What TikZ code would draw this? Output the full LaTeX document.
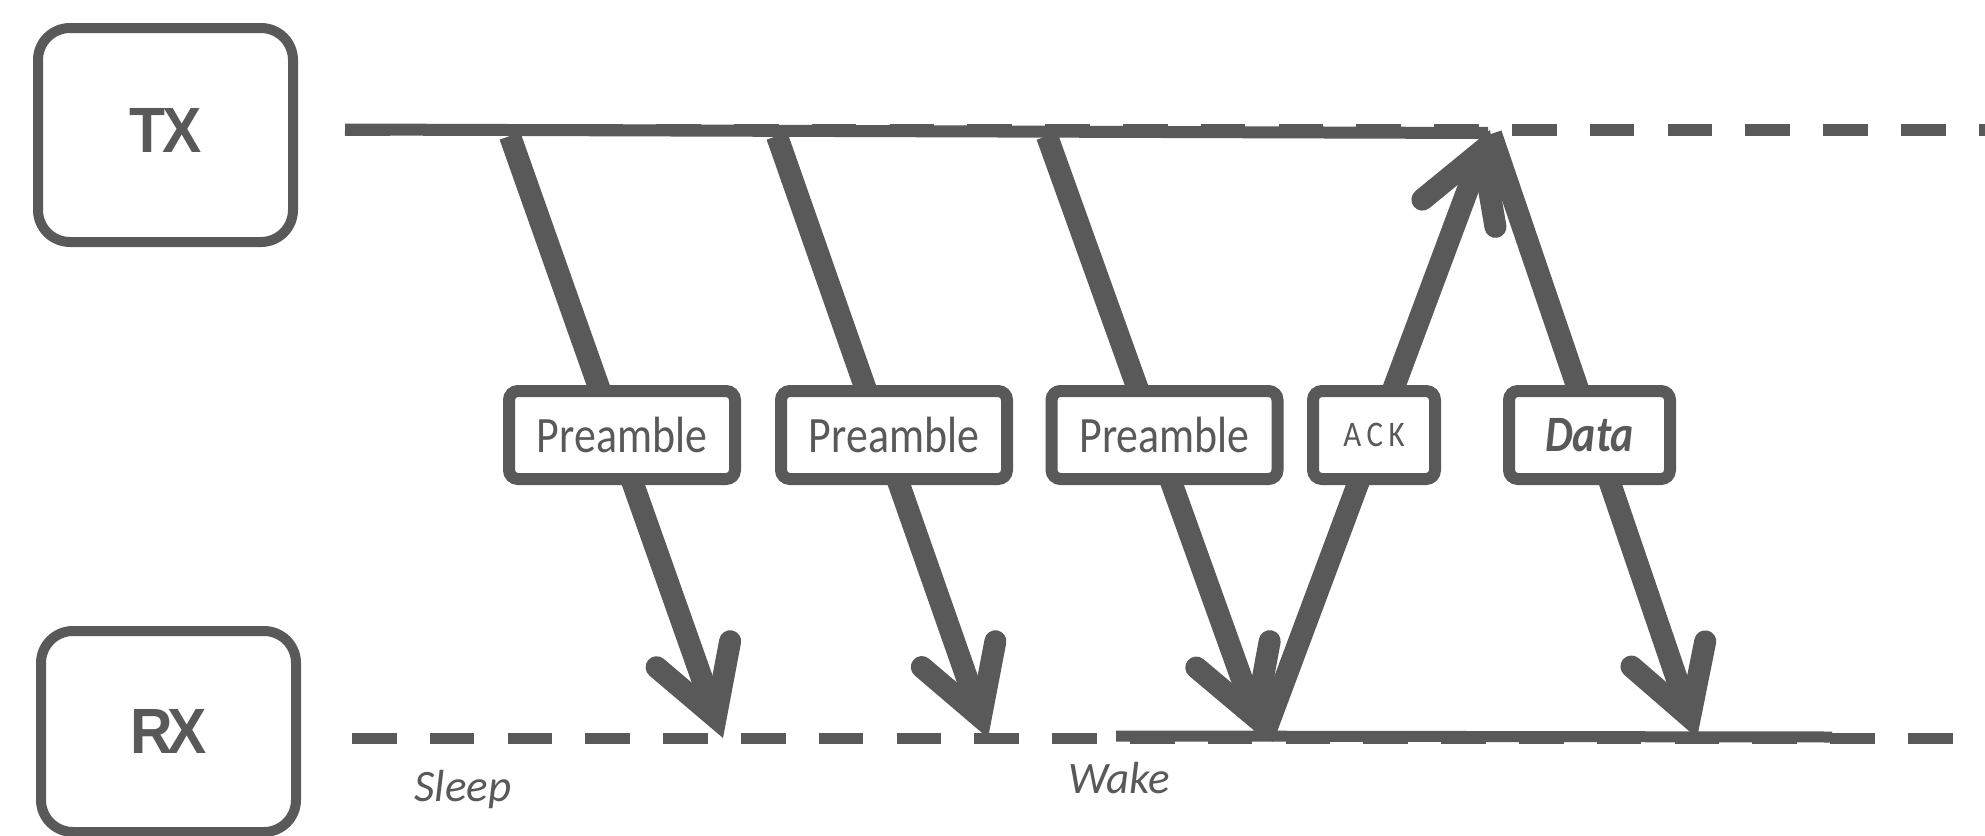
\documentclass[tikz,border=0pt]{standalone}
\usepackage{fontspec}
\usetikzlibrary{arrows.meta}
\setmainfont{Carlito}
\newfontfamily\capfont[FakeStretch=0.92]{Liberation Sans}
\newfontfamily\lblfont[FakeStretch=0.86]{Carlito}
\definecolor{ink}{RGB}{89,89,89}

\begin{document}
\begin{tikzpicture}[x=1pt,y=-1pt,
  every node/.style={text=ink},
  lane/.style={draw=ink, line width=10pt, rounded corners=32pt,
    minimum width=255pt, inner sep=0pt,
    font=\capfont\fontsize{64}{70}\selectfont\bfseries},
  lbl/.style={draw=ink, fill=white, line width=12pt, rounded corners=9pt,
    minimum height=88pt, inner sep=0pt,
    font=\lblfont\fontsize{51}{56}\selectfont},
  msg/.style={draw=ink, line width=22pt,
    -{Straight Barb[length=67pt,width=78pt,line cap=round,line join=miter]}},
  idle/.style={draw=ink, line width=12pt, dash pattern=on 44.5pt off 33.3pt},
  busy/.style={draw=ink, line width=12pt},
  note/.style={font=\fontsize{45}{50}\selectfont\itshape, anchor=base}
]
\fill[white] (0,0) rectangle (1985,835);
\useasboundingbox (0,0) rectangle (1985,835);

% stations
\node[lane, minimum height=214pt, text depth=10pt] (tx) at (165.5,135) {T\kern-3.5pt X};
\node[lane, minimum height=201pt] (rx) at (168.5,731.5) {R\kern-5pt X};

% time lines
\coordinate (txa) at (345,130);   \coordinate (txz) at (1985,130);
\coordinate (txb) at (345,129.5); \coordinate (txe) at (1488,133);
\coordinate (rxa) at (352,738);   \coordinate (rxz) at (1985,738);
\coordinate (rxb) at (1116,736);  \coordinate (rxe) at (1832,737);
\draw[idle] (txa) -- (txz);
\draw[busy] (txb) -- (txe);
\draw[idle, line width=11pt] (rxa) -- (rxz);
\draw[busy, line width=11pt] (rxb) -- (rxe);

% message end points
\coordinate (t1) at (510,136);  \coordinate (r1) at (723,738);
\coordinate (t2) at (777,136);  \coordinate (r2) at (988,738);
\coordinate (t3) at (1047,136); \coordinate (r3) at (1263,738);
\coordinate (tk) at (1490,130);
\coordinate (td) at (1491,134); \coordinate (rd) at (1697,738);

% messages
\draw[msg] (t1) -- (r1);
\draw[msg] (t2) -- (r2);
\draw[msg] (t3) -- (r3);
\draw[msg] (r3) -- (tk);
\draw[msg] (td) -- (rd);

% message labels
\node[lbl, minimum width=226pt] (p1) at (622,435) {Preamble};
\node[lbl, minimum width=226pt] (p2) at (894,435) {Preamble};
\node[lbl, minimum width=226pt] (p3) at (1164.5,435) {Preamble};
\node[lbl, minimum width=122pt, font=\lblfont\fontsize{36}{40}\selectfont] (ack) at (1374,435) {A\kern5.5pt C\kern5.5pt K};
\node[lbl, minimum width=161pt, font=\lblfont\fontsize{51}{56}\selectfont\bfseries\itshape] (data) at (1589.5,435) {Data};

% receiver states
\node[note] (sleep) at (463,801) {Sleep};
\node[note] (wake) at (1119,793) {Wake};
\end{tikzpicture}
\end{document}
